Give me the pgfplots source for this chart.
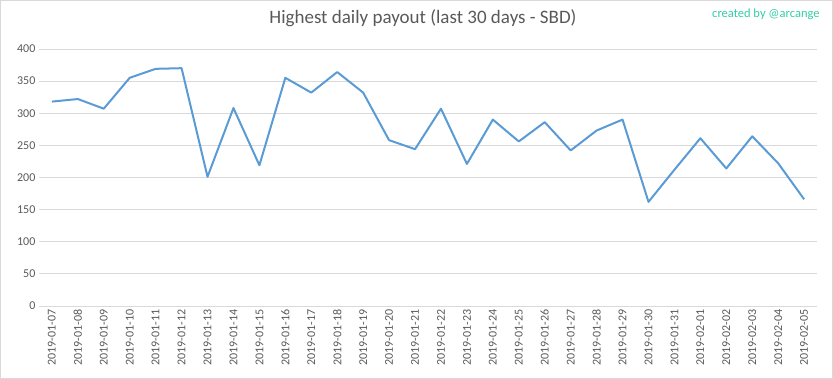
\documentclass[border=0pt]{standalone}
\usepackage{pgfplots}
\pgfplotsset{compat=1.18}
\usepackage{fontspec}
\setmainfont{Carlito}
\definecolor{linec}{HTML}{5B9BD5}
\definecolor{gridc}{HTML}{D9D9D9}
\definecolor{txtc}{HTML}{595959}
\definecolor{credc}{HTML}{33CCA8}
\begin{document}
\begin{tikzpicture}[x=1pt,y=1pt]
\draw[gridc, line width=0.8pt] (0.5,0.5) rectangle (832.5,378.5);
\node[txtc, font=\fontsize{19}{22}\selectfont, anchor=base] at (423,355) {Highest daily payout (last 30 days - SBD)};
\node[credc, font=\fontsize{12.5}{15}\selectfont, anchor=base east] at (823,361) {created by @arcange};
\begin{axis}[
  at={(39pt,73pt)}, anchor=south west,
  scale only axis, width=778pt, height=257pt,
  xmin=-0.5, xmax=29.5, ymin=0, ymax=400,
  ytick={0,50,...,400},
  xtick={0,...,29},
  xticklabels={2019-01-07,2019-01-08,2019-01-09,2019-01-10,2019-01-11,2019-01-12,2019-01-13,2019-01-14,2019-01-15,2019-01-16,2019-01-17,2019-01-18,2019-01-19,2019-01-20,2019-01-21,2019-01-22,2019-01-23,2019-01-24,2019-01-25,2019-01-26,2019-01-27,2019-01-28,2019-01-29,2019-01-30,2019-01-31,2019-02-01,2019-02-02,2019-02-03,2019-02-04,2019-02-05},
  x tick label style={rotate=90, anchor=east, font=\fontsize{12}{14}\selectfont, text=txtc, xshift=0pt},
  y tick label style={font=\fontsize{12}{14}\selectfont, text=txtc},
  /pgf/number format/assume math mode=true,
  ymajorgrids, grid style={gridc, line width=0.8pt},
  axis line style={draw=none},
  axis x line*=bottom,
  x axis line style={gridc, line width=0.8pt},
  major tick length=0pt,
  tick style={draw=none},
  clip=false,
]
\addplot[linec, line width=2pt, line join=round] coordinates {
(0,318) (1,322) (2,307) (3,355) (4,369) (5,370) (6,201) (7,308) (8,219) (9,355)
(10,332) (11,364) (12,332) (13,258) (14,244) (15,307) (16,221) (17,290) (18,256) (19,286)
(20,242) (21,273) (22,290) (23,162) (24,212) (25,261) (26,214) (27,264) (28,222) (29,166)
};
\end{axis}
\end{tikzpicture}
\end{document}
